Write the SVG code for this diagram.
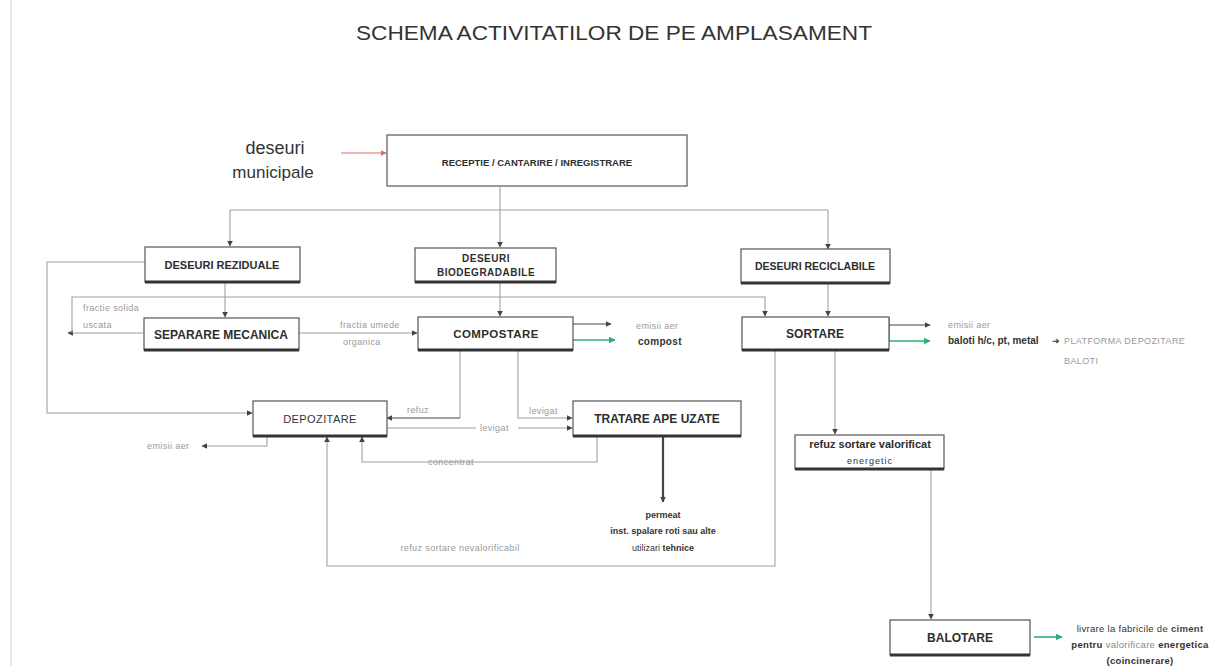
<svg xmlns="http://www.w3.org/2000/svg" width="1220" height="666" viewBox="0 0 1220 666">
<defs>
<marker id="ah" viewBox="0 0 10 10" refX="9" refY="5" markerWidth="6" markerHeight="6" markerUnits="userSpaceOnUse" orient="auto"><path d="M0,0 L10,5 L0,10 z" fill="#444"/></marker>
<marker id="ahr" viewBox="0 0 10 10" refX="9" refY="5" markerWidth="6" markerHeight="6" markerUnits="userSpaceOnUse" orient="auto"><path d="M0,0 L10,5 L0,10 z" fill="#e06a6a"/></marker>
<marker id="ahg" viewBox="0 0 10 10" refX="9" refY="5" markerWidth="7" markerHeight="7" markerUnits="userSpaceOnUse" orient="auto"><path d="M0,0 L10,5 L0,10 z" fill="#2fae74"/></marker>
<style>
.box{fill:#fff;stroke:#555;stroke-width:1.2}
.sh{stroke:#333;stroke-width:3;fill:none}
.c{fill:none;stroke:#a0a0a0;stroke-width:1.1}
.cd{fill:none;stroke:#444;stroke-width:1.2}
.cg{fill:none;stroke:#2fae74;stroke-width:1.6}
.lb{font-family:"Liberation Sans",Arial,sans-serif;font-weight:bold;fill:#2e2e2e;text-anchor:middle}
.lt{font-family:"Liberation Sans",Arial,sans-serif;fill:#999;font-size:9px;letter-spacing:0.4px}
.ls{font-family:"Liberation Sans",Arial,sans-serif;fill:#333}
</style>
</defs>
<rect width="1220" height="666" fill="#fff"/>
<line x1="11" y1="0" x2="11" y2="666" stroke="#e2eceb" stroke-width="2"/>
<text x="614" y="40" class="ls" font-size="21" text-anchor="middle" fill="#3a3a3a" textLength="516" lengthAdjust="spacingAndGlyphs">SCHEMA ACTIVITATILOR DE PE AMPLASAMENT</text>
<g id="input">
<text x="275" y="154" class="ls" font-size="18" text-anchor="middle">deseuri</text>
<text x="273" y="178" class="ls" font-size="17" text-anchor="middle">municipale</text>
</g>
<g id="connectors">
<path d="M341,153 H386" fill="none" stroke="#e06a6a" stroke-width="1.2" marker-end="url(#ahr)"/>
<path class="c" d="M500,187 V247" marker-end="url(#ah)"/>
<path class="c" d="M230,210 H828"/>
<path class="c" d="M230,210 V246" marker-end="url(#ah)"/>
<path class="c" d="M828,210 V249" marker-end="url(#ah)"/>
<path class="c" d="M225,283 V317" marker-end="url(#ah)"/>
<path class="c" d="M145,262 H47 V413 H252" marker-end="url(#ah)"/>
<path class="c" d="M143,333 H68" marker-end="url(#ah)"/>
<path class="c" d="M72,333 V297 H765 V316" marker-end="url(#ah)"/>
<path class="c" d="M500,283 V316" marker-end="url(#ah)"/>
<path class="c" d="M828,284 V316" marker-end="url(#ah)"/>
<path class="c" d="M299,333 H417" marker-end="url(#ah)"/>
<path class="cd" d="M573,324 H611" marker-end="url(#ah)"/>
<path class="cg" d="M573,340 H615" marker-end="url(#ahg)"/>
<path class="cd" d="M889,325 H930" marker-end="url(#ah)"/>
<path class="cg" d="M889,318 V341 H930" marker-end="url(#ahg)"/>
<path class="c" d="M460,351 V418"/>
<path class="cd" d="M460,418 H387" marker-end="url(#ah)"/>
<path class="c" d="M518,351 V418 H572" marker-end="url(#ah)"/>
<path class="c" d="M387,428 H572" marker-end="url(#ah)"/>
<path class="c" d="M597,437 V462 H362 V437" marker-end="url(#ah)"/>
<path class="cd" d="M663,437 V502" style="stroke-width:2.2" marker-end="url(#ah)"/>
<path class="c" d="M775,351 V566 H327 V437" marker-end="url(#ah)"/>
<path class="c" d="M835,351 V434" marker-end="url(#ah)"/>
<path class="c" d="M931,470 V619" marker-end="url(#ah)"/>
<path class="cg" d="M1034,637 H1062" marker-end="url(#ahg)"/>
<path class="c" d="M267,436 V446 H202" marker-end="url(#ah)"/>
</g>
<g id="receptie">
<rect class="box" x="387" y="135" width="300" height="51"/>
<text x="537" y="166" class="lb" font-size="9.5">RECEPTIE / CANTARIRE / INREGISTRARE</text>
</g>
<g id="reziduale">
<rect class="box" x="145" y="247" width="155" height="35"/>
<line class="sh" x1="145" y1="282" x2="300" y2="282"/>
<text x="222" y="269" class="lb" font-size="11">DESEURI REZIDUALE</text>
</g>
<g id="biodegradabile">
<rect class="box" x="415" y="248" width="141" height="34"/>
<line class="sh" x1="415" y1="282" x2="556" y2="282"/>
<text x="486" y="262" class="lb" font-size="10" letter-spacing="0.5">DESEURI</text>
<text x="486" y="276" class="lb" font-size="10" letter-spacing="0.5">BIODEGRADABILE</text>
</g>
<g id="reciclabile">
<rect class="box" x="741" y="249" width="149" height="34"/>
<line class="sh" x1="741" y1="283" x2="890" y2="283"/>
<text x="815" y="270" class="lb" font-size="10.5">DESEURI RECICLABILE</text>
</g>
<g id="separare">
<rect class="box" x="144" y="318" width="155" height="32"/>
<line class="sh" x1="144" y1="350" x2="299" y2="350"/>
<text x="221" y="339" class="lb" font-size="12">SEPARARE MECANICA</text>
</g>
<g id="compostare">
<rect class="box" x="418" y="317" width="155" height="33"/>
<line class="sh" x1="418" y1="350" x2="573" y2="350"/>
<text x="496" y="338" class="lb" font-size="11.5" letter-spacing="0.4">COMPOSTARE</text>
</g>
<g id="sortare">
<rect class="box" x="742" y="317" width="147" height="33"/>
<line class="sh" x1="742" y1="350" x2="889" y2="350"/>
<text x="815" y="338" class="lb" font-size="12">SORTARE</text>
</g>
<g id="depozitare">
<rect class="box" x="253" y="401" width="134" height="35"/>
<line class="sh" x1="253" y1="436" x2="387" y2="436"/>
<text x="320" y="423" class="ls" font-size="11" text-anchor="middle" fill="#555" letter-spacing="0.4">DEPOZITARE</text>
</g>
<g id="tratare">
<rect class="box" x="573" y="401" width="168" height="35"/>
<line class="sh" x1="573" y1="436" x2="741" y2="436"/>
<text x="657" y="423" class="lb" font-size="12">TRATARE APE UZATE</text>
</g>
<g id="refuz-valorificat">
<rect class="box" x="795" y="435" width="149" height="34"/>
<line class="sh" x1="795" y1="469" x2="944" y2="469"/>
<text x="870" y="448" class="lb" font-size="11">refuz sortare valorificat</text>
<text x="870" y="464" class="ls" font-size="9" text-anchor="middle" fill="#777" letter-spacing="1">energetic</text>
</g>
<g id="balotare">
<rect class="box" x="890" y="620" width="140" height="35"/>
<line class="sh" x1="890" y1="655" x2="1030" y2="655"/>
<text x="960" y="642" class="lb" font-size="12">BALOTARE</text>
</g>
<g id="labels">
<text x="83" y="311" class="lt" font-size="8" fill="#aaa">fractie solida</text>
<text x="83" y="328" class="lt" font-size="8" fill="#aaa">uscata</text>
<rect x="338" y="319" width="74" height="10" fill="#fff"/>
<text x="340" y="328" class="lt">fractia umede</text>
<text x="343" y="345" class="lt">organica</text>
<text x="636" y="329" class="lt" letter-spacing="1.2">emisii aer</text>
<text x="638" y="345" class="ls" font-size="10" font-weight="bold" letter-spacing="0.3">compost</text>
<text x="948" y="328" class="lt" letter-spacing="0.6">emisii aer</text>
<text x="948" y="344" class="ls" font-size="10" font-weight="bold">baloti h/c, pt, metal</text>
<text x="1052" y="344" class="ls" font-size="9" fill="#555">➔</text>
<text x="1064" y="344" class="lt" fill="#888" letter-spacing="0.8">PLATFORMA DEPOZITARE</text>
<text x="1064" y="364" class="lt" fill="#888" letter-spacing="1">BALOTI</text>
<rect x="405" y="406" width="28" height="9" fill="#fff"/>
<text x="407" y="413" class="lt" font-size="8.5" fill="#aaa">refuz</text>
<text x="529" y="414" class="lt" font-size="9">levigat</text>
<rect x="476" y="423" width="42" height="10" fill="#fff"/>
<text x="480" y="431" class="lt" font-size="9.5">levigat</text>
<text x="451" y="465" class="lt" font-size="8.5" fill="#888" text-anchor="middle">concentrat</text>
<text x="147" y="449" class="lt" font-size="8" fill="#aaa">emisii aer</text>
<text x="663" y="518" class="ls" font-size="9" font-weight="bold" text-anchor="middle">permeat</text>
<text x="663" y="534" class="ls" font-size="9" font-weight="bold" text-anchor="middle">inst. spalare roti sau alte</text>
<text x="663" y="551" class="ls" font-size="9" text-anchor="middle" fill="#444">utilizari <tspan font-weight="bold">tehnice</tspan></text>
<text x="460" y="551" class="lt" font-size="9" fill="#888" text-anchor="middle">refuz sortare nevalorificabil</text>
<text x="1140" y="632" class="ls" font-size="9.5" text-anchor="middle" fill="#888" letter-spacing="0.3">livrare la fabricile de <tspan font-weight="bold" fill="#444">ciment</tspan></text>
<text x="1140" y="648" class="ls" font-size="9.5" font-weight="bold" text-anchor="middle" fill="#444" letter-spacing="0.3">pentru <tspan font-weight="normal" fill="#888">valorificare</tspan> energetica</text>
<text x="1140" y="664" class="ls" font-size="9.5" font-weight="bold" text-anchor="middle" fill="#777" letter-spacing="0.3">(coincinerare)</text>
</g>
</svg>
